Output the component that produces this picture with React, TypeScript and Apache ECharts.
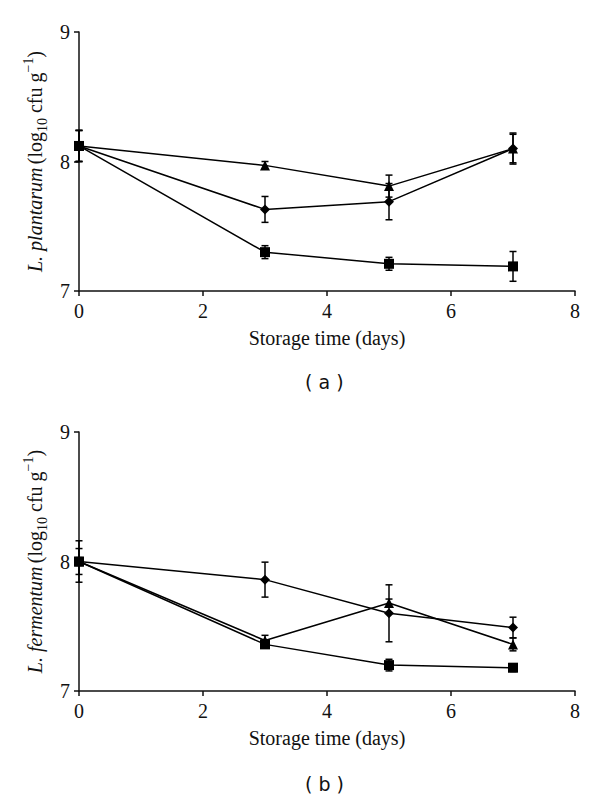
import React, { useEffect, useRef } from "react";
import * as echarts from "echarts";

const days = [0, 3, 5, 7];
const xTicks = [0, 2, 4, 6, 8];
const yTicks = [7, 8, 9];

// Panel (a) L. plantarum
const aTriangle = [8.12, 7.97, 7.81, 8.1];
const aTriangleErr = [0.12, 0.03, 0.085, 0.11];
const aDiamond = [8.12, 7.63, 7.69, 8.1];
const aDiamondErr = [0.12, 0.1, 0.14, 0.12];
const aSquare = [8.12, 7.3, 7.21, 7.19];
const aSquareErr = [0.12, 0.05, 0.05, 0.115];

// Panel (b) L. fermentum
const bDiamond = [8.0, 7.86, 7.6, 7.49];
const bDiamondErr = [0.16, 0.135, 0.22, 0.08];
const bTriangle = [8.0, 7.39, 7.68, 7.36];
const bTriangleErr = [0.1, 0.04, 0.03, 0.05];
const bSquare = [8.0, 7.36, 7.2, 7.18];
const bSquareErr = [0.03, 0.03, 0.045, 0.03];

const FONT = "Liberation Serif";

export default function App() {
  const ref = useRef<HTMLDivElement>(null);
  useEffect(() => {
    if (!ref.current) return;
    const chart = echarts.init(ref.current, null, { renderer: "svg" });

    const grids = [
      { left: 79, top: 32, width: 496, height: 259 },
      { left: 79, top: 432, width: 496, height: 259 },
    ];

    const xAxis = grids.map((_, i) => ({
      type: "value",
      gridIndex: i,
      min: 0,
      max: 8,
      interval: 2,
      name: "Storage time (days)",
      nameLocation: "middle",
      nameGap: 37,
      nameTextStyle: { fontFamily: FONT, fontSize: 20, color: "#111" },
      axisLine: { show: true, lineStyle: { color: "#111", width: 1.5 } },
      axisTick: { show: true, inside: false, length: 5, lineStyle: { color: "#111", width: 1.5 } },
      axisLabel: {
        fontFamily: FONT,
        fontSize: 20,
        color: "#111",
        margin: 10,
        formatter: (v: number) => (xTicks.includes(v) ? String(v) : ""),
      },
      splitLine: { show: false },
    }));

    const yName = (species: string) =>
      `{i|L. ${species}} {n|(log}{sub|10}{n| cfu g}{sup|−1}{n|)}`;
    const rich = {
      i: { fontFamily: FONT, fontSize: 20, fontStyle: "italic", color: "#111", lineHeight: 28 },
      n: { fontFamily: FONT, fontSize: 20, color: "#111", lineHeight: 28 },
      sub: { fontFamily: FONT, fontSize: 14, color: "#111", verticalAlign: "bottom", lineHeight: 28 },
      sup: { fontFamily: FONT, fontSize: 14, color: "#111", verticalAlign: "top", lineHeight: 28 },
    };

    const yAxis = ["plantarum", "fermentum"].map((sp, i) => ({
      type: "value",
      gridIndex: i,
      min: 7,
      max: 9,
      interval: 1,
      name: yName(sp),
      nameLocation: "middle",
      nameRotate: 90,
      nameGap: 30,
      nameTextStyle: { rich },
      axisLine: { show: true, lineStyle: { color: "#111", width: 1.5 } },
      axisTick: { show: true, inside: false, length: 5, lineStyle: { color: "#111", width: 1.5 } },
      axisLabel: {
        fontFamily: FONT,
        fontSize: 20,
        color: "#111",
        margin: 9,
        formatter: (v: number) => (yTicks.includes(v) ? String(v) : ""),
      },
      splitLine: { show: false },
    }));

    const lineSeries = (vals: number[], symbol: string, size: number, idx: number) => ({
      type: "line",
      xAxisIndex: idx,
      yAxisIndex: idx,
      data: days.map((d, k) => [d, vals[k]]),
      symbol,
      symbolSize: size,
      itemStyle: { color: "#000" },
      lineStyle: { color: "#000", width: 1.5 },
      z: 3,
    });

    const errSeries = (vals: number[], errs: number[], idx: number) => ({
      type: "custom",
      xAxisIndex: idx,
      yAxisIndex: idx,
      data: days.map((d, k) => [d, vals[k] - errs[k], vals[k] + errs[k]]),
      z: 2,
      renderItem: (params: any, api: any) => {
        const lo = api.coord([api.value(0), api.value(1)]);
        const hi = api.coord([api.value(0), api.value(2)]);
        const w = 3.5;
        const st = { stroke: "#000", lineWidth: 1.5 };
        return {
          type: "group",
          children: [
            { type: "line", shape: { x1: lo[0], y1: lo[1], x2: hi[0], y2: hi[1] }, style: st },
            { type: "line", shape: { x1: lo[0] - w, y1: lo[1], x2: lo[0] + w, y2: lo[1] }, style: st },
            { type: "line", shape: { x1: hi[0] - w, y1: hi[1], x2: hi[0] + w, y2: hi[1] }, style: st },
          ],
        };
      },
    });

    const option: any = {
      animation: false,
      backgroundColor: "#fff",
      grid: grids,
      xAxis,
      yAxis,
      series: [
        errSeries(aTriangle, aTriangleErr, 0),
        errSeries(aDiamond, aDiamondErr, 0),
        errSeries(aSquare, aSquareErr, 0),
        lineSeries(aTriangle, "triangle", 10, 0),
        lineSeries(aDiamond, "diamond", 10, 0),
        lineSeries(aSquare, "rect", 10, 0),
        errSeries(bDiamond, bDiamondErr, 1),
        errSeries(bTriangle, bTriangleErr, 1),
        errSeries(bSquare, bSquareErr, 1),
        lineSeries(bDiamond, "diamond", 10, 1),
        lineSeries(bTriangle, "triangle", 10, 1),
        lineSeries(bSquare, "rect", 10, 1),
      ],
      graphic: [
        {
          type: "text",
          left: 305,
          top: 372,
          style: { text: "( a )", fontFamily: "DejaVu Sans", fontSize: 19, fill: "#111" },
        },
        {
          type: "text",
          left: 305,
          top: 774,
          style: { text: "( b )", fontFamily: "DejaVu Sans", fontSize: 19, fill: "#111" },
        },
      ],
    };
    chart.setOption(option);
    return () => chart.dispose();
  }, []);

  return <div ref={ref} style={{ width: 600, height: 802, position: "absolute", left: 0, top: 0 }} />;
}
